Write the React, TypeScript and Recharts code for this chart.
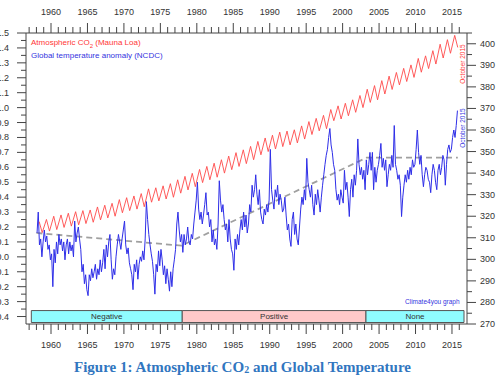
import { ComposedChart, Line, XAxis, YAxis, ReferenceArea } from "recharts";

const START_YEAR = 1958;

// Mauna Loa CO2 (ppm): seasonal maximum (May) and minimum (October) per year, 1958-2015
const CO2_MAY = [
  317.5, 318.5, 320.0, 320.6, 321.4, 322.1, 322.6, 322.9, 324.3, 325.1,
  326.0, 327.7, 328.6, 329.4, 330.5, 332.7, 333.2, 334.1, 335.1, 336.9,
  338.5, 339.9, 341.7, 343.1, 344.6, 346.2, 347.9, 349.5, 350.8, 352.4,
  354.7, 356.3, 357.6, 359.0, 359.5, 360.1, 361.9, 363.9, 365.4, 366.8,
  369.5, 371.2, 372.4, 374.0, 376.0, 378.9, 380.6, 382.9, 385.0, 386.7,
  388.6, 390.2, 393.2, 394.4, 396.8, 399.8, 401.9, 403.9,
];
const CO2_OCT = [
  312.4, 313.1, 313.8, 314.8, 315.4, 316.0, 316.6, 317.2, 318.3, 319.2,
  320.0, 321.6, 322.6, 323.3, 324.4, 326.5, 327.1, 328.0, 328.8, 330.7,
  332.2, 333.7, 335.6, 336.9, 338.1, 340.0, 341.6, 343.1, 344.4, 346.2,
  348.5, 350.0, 351.2, 352.3, 353.1, 354.0, 355.8, 357.9, 359.6, 360.6,
  364.3, 365.1, 366.6, 368.2, 370.4, 372.8, 374.0, 376.7, 378.8, 380.9,
  382.5, 384.4, 386.8, 388.5, 390.6, 393.4, 395.6, 398.3,
];

// NCDC global temperature anomaly (°C), two-month values, one row per year
const TEMP_ANOMALY = [
  [0.16, 0.30, 0.08, 0.12, 0.0, 0.1],
  [0.18, 0.1, 0.14, 0.05, 0.08, -0.02],
  [0.02, -0.2, 0.05, -0.04, 0.1, 0.02],
  [0.15, 0.08, 0.12, 0.04, 0.1, -0.02],
  [0.08, 0.12, 0.02, 0.1, 0.04, 0.08],
  [0.0, 0.24, 0.1, 0.16, 0.2, 0.12],
  [0.05, -0.1, -0.05, -0.18, -0.12, -0.22],
  [-0.26, -0.12, -0.16, -0.08, -0.14, -0.1],
  [-0.05, -0.15, -0.08, -0.12, -0.02, -0.1],
  [-0.04, 0.05, -0.08, 0.08, 0.0, 0.1],
  [0.15, -0.02, -0.15, -0.08, -0.12, 0.0],
  [0.08, 0.15, 0.1, 0.05, 0.12, 0.18],
  [0.24, 0.08, 0.02, 0.06, -0.04, -0.08],
  [-0.12, -0.22, -0.05, -0.1, -0.02, -0.15],
  [-0.05, 0.0, -0.03, 0.04, -0.02, 0.12],
  [0.37, 0.25, 0.15, 0.08, 0.02, -0.03],
  [-0.12, -0.25, -0.05, -0.1, 0.04, -0.06],
  [0.05, -0.02, -0.12, -0.06, -0.18, -0.08],
  [-0.15, -0.23, -0.1, -0.2, -0.08, -0.02],
  [0.05, 0.22, 0.3, 0.18, 0.1, 0.15],
  [0.03, 0.15, 0.08, 0.12, 0.2, 0.1],
  [0.08, 0.15, 0.12, 0.22, 0.3, 0.38],
  [0.5, 0.32, 0.25, 0.3, 0.22, 0.28],
  [0.35, 0.43, 0.28, 0.3, 0.2, 0.25],
  [0.1, 0.18, 0.08, 0.12, 0.05, 0.22],
  [0.51, 0.38, 0.3, 0.35, 0.25, 0.18],
  [0.22, 0.1, 0.25, 0.12, 0.05, 0.02],
  [-0.09, 0.12, 0.05, 0.15, 0.08, 0.18],
  [0.25, 0.18, 0.3, 0.2, 0.28, 0.16],
  [0.22, 0.35, 0.3, 0.48, 0.4, 0.45],
  [0.55, 0.42, 0.35, 0.45, 0.3, 0.25],
  [0.22, 0.32, 0.28, 0.35, 0.3, 0.38],
  [0.72, 0.45, 0.38, 0.32, 0.45, 0.4],
  [0.48, 0.35, 0.42, 0.38, 0.3, 0.32],
  [0.4, 0.28, 0.18, 0.22, 0.12, 0.07],
  [0.25, 0.3, 0.15, 0.22, 0.12, 0.08],
  [0.2, 0.32, 0.4, 0.35, 0.45, 0.38],
  [0.66, 0.5, 0.45, 0.4, 0.48, 0.35],
  [0.28, 0.42, 0.35, 0.45, 0.38, 0.3],
  [0.4, 0.48, 0.55, 0.62, 0.68, 0.72],
  [0.8, 0.86, 0.75, 0.7, 0.62, 0.58],
  [0.45, 0.38, 0.42, 0.35, 0.45, 0.4],
  [0.36, 0.58, 0.45, 0.5, 0.4, 0.27],
  [0.45, 0.52, 0.4, 0.55, 0.48, 0.58],
  [0.79, 0.62, 0.55, 0.6, 0.52, 0.58],
  [0.45, 0.65, 0.55, 0.62, 0.7, 0.58],
  [0.7, 0.45, 0.6, 0.5, 0.58, 0.62],
  [0.68, 0.76, 0.6, 0.66, 0.58, 0.65],
  [0.47, 0.55, 0.62, 0.58, 0.68, 0.6],
  [0.88, 0.62, 0.58, 0.52, 0.55, 0.48],
  [0.27, 0.4, 0.48, 0.55, 0.5, 0.58],
  [0.52, 0.6, 0.55, 0.65, 0.6, 0.62],
  [0.72, 0.85, 0.7, 0.62, 0.68, 0.55],
  [0.47, 0.55, 0.6, 0.58, 0.52, 0.5],
  [0.43, 0.55, 0.62, 0.58, 0.5, 0.45],
  [0.58, 0.62, 0.55, 0.6, 0.68, 0.65],
  [0.48, 0.62, 0.72, 0.75, 0.7, 0.72],
  [0.8, 0.85, 0.8, 0.88, 0.98],
];

// dashed trend, one straight piece per PDO phase
const TREND_YEARS = [1958.0, 1977.9, 2003.3, 2015.8];
const TREND_VALUES = [0.16, 0.075, 0.665, 0.665];

const PHASE_NAMES = ["Negative", "Positive", "None"];
const PHASE_FROM = [1957.3, 1978.0, 2003.2];
const PHASE_TO = [1978.0, 2003.2, 2016.65];

const YEAR_TICKS = [
  1957, 1958, 1959, 1960, 1961, 1962, 1963, 1964, 1965, 1966, 1967, 1968, 1969,
  1970, 1971, 1972, 1973, 1974, 1975, 1976, 1977, 1978, 1979, 1980, 1981, 1982,
  1983, 1984, 1985, 1986, 1987, 1988, 1989, 1990, 1991, 1992, 1993, 1994, 1995,
  1996, 1997, 1998, 1999, 2000, 2001, 2002, 2003, 2004, 2005, 2006, 2007, 2008,
  2009, 2010, 2011, 2012, 2013, 2014, 2015, 2016,
];
const YEAR_LABELS = [1960, 1965, 1970, 1975, 1980, 1985, 1990, 1995, 2000, 2005, 2010, 2015];
const TEMP_LABELS = [-0.4, -0.3, -0.2, -0.1, 0.0, 0.1, 0.2, 0.3, 0.4, 0.5, 0.6, 0.7, 0.8, 0.9, 1.0, 1.1, 1.2, 1.3, 1.4, 1.5];
const TEMP_MINOR = [-0.35, -0.25, -0.15, -0.05, 0.05, 0.15, 0.25, 0.35, 0.45, 0.55, 0.65, 0.75, 0.85, 0.95, 1.05, 1.15, 1.25, 1.35, 1.45];
const CO2_LABELS = [270, 280, 290, 300, 310, 320, 330, 340, 350, 360, 370, 380, 390, 400];
const CO2_MINOR = [275, 285, 295, 305, 315, 325, 335, 345, 355, 365, 375, 385, 395, 405];

const co2Data = CO2_MAY.flatMap((may, i) => [
  { t: START_YEAR + i + 4.5 / 12, co2: may },
  { t: START_YEAR + i + 9.5 / 12, co2: CO2_OCT[i] },
]);
const tempData = TEMP_ANOMALY.flatMap((row, i) =>
  row.map((v, k) => ({ t: START_YEAR + i + (k + 0.5) / 6, temp: v }))
);
const trendData = TREND_YEARS.map((t, i) => ({ t, trend: TREND_VALUES[i] }));

const FONT = "'Liberation Sans', Arial, sans-serif";
const AXIS = "#444";
const LABEL = "#333";
const X_DOMAIN = [1956.57, 2017.06];
const PHASE_FILL = ["#8ffcff", "#ffc9c9", "#8ffcff"];

const isIn = (list: number[], v: number) => list.some((a) => Math.abs(a - v) < 1e-6);

function LeftTick({ x, y, payload }: any) {
  const major = isIn(TEMP_LABELS, payload.value);
  return (
    <g>
      <line x1={x - (major ? 9 : 5)} x2={x} y1={y} y2={y} stroke={AXIS} />
      {major && (
        <text x={x - 17} y={y + 3} textAnchor="end" fontSize={9} fontFamily={FONT} fill={LABEL}>
          {payload.value.toFixed(1)}
        </text>
      )}
    </g>
  );
}

function RightTick({ x, y, payload }: any) {
  const major = isIn(CO2_LABELS, payload.value);
  return (
    <g>
      <line x1={x} x2={x + (major ? 9 : 5)} y1={y} y2={y} stroke={AXIS} />
      {major && (
        <text x={x + 13} y={y + 3} textAnchor="start" fontSize={9} fontFamily={FONT} fill={LABEL}>
          {payload.value}
        </text>
      )}
    </g>
  );
}

function YearTick({ x, y, payload, top }: any) {
  const major = isIn(YEAR_LABELS, payload.value);
  const dir = top ? -1 : 1;
  return (
    <g>
      <line x1={x} x2={x} y1={y} y2={y + dir * (major ? 10 : 6)} stroke={AXIS} />
      {major && (
        <text x={x} y={top ? y - 18 : y + 24} textAnchor="middle" fontSize={9} fontFamily={FONT} fill={LABEL}>
          {payload.value}
        </text>
      )}
    </g>
  );
}

export default function App() {
  return (
    <div style={{ position: "absolute", left: 0, top: 0, width: 500, height: 380, background: "#fff", overflow: "hidden" }}>
      <ComposedChart width={500} height={350} margin={{ top: 0, right: 0, bottom: 0, left: 0 }}>
        <XAxis
          xAxisId={0}
          type="number"
          dataKey="t"
          domain={X_DOMAIN}
          allowDataOverflow
          ticks={YEAR_TICKS}
          interval={0}
          height={26}
          tickSize={0}
          tickMargin={0}
          tickLine={false}
          axisLine={{ stroke: AXIS }}
          tick={(p: any) => <YearTick {...p} />}
        />
        <XAxis
          xAxisId="top"
          orientation="top"
          type="number"
          dataKey="t"
          domain={X_DOMAIN}
          allowDataOverflow
          ticks={YEAR_TICKS}
          interval={0}
          height={33}
          tickSize={0}
          tickMargin={0}
          tickLine={false}
          axisLine={{ stroke: AXIS }}
          tick={(p: any) => <YearTick {...p} top />}
        />
        <YAxis
          yAxisId="temp"
          orientation="left"
          type="number"
          domain={[-0.45, 1.5]}
          allowDataOverflow
          ticks={[...TEMP_LABELS, ...TEMP_MINOR]}
          interval={0}
          width={26}
          tickSize={0}
          tickMargin={0}
          tickLine={false}
          axisLine={{ stroke: AXIS }}
          tick={(p: any) => <LeftTick {...p} />}
        />
        <YAxis
          yAxisId="co2"
          orientation="right"
          type="number"
          domain={[270, 405]}
          allowDataOverflow
          ticks={[...CO2_LABELS, ...CO2_MINOR]}
          interval={0}
          width={33}
          tickSize={0}
          tickMargin={0}
          tickLine={false}
          axisLine={{ stroke: AXIS }}
          tick={(p: any) => <RightTick {...p} />}
        />
        {PHASE_NAMES.map((name, i) => (
          <ReferenceArea
            key={name}
            xAxisId={0}
            yAxisId="temp"
            x1={PHASE_FROM[i]}
            x2={PHASE_TO[i]}
            y1={-0.44}
            y2={-0.36}
            fill={PHASE_FILL[i]}
            fillOpacity={1}
            stroke="#555"
            strokeWidth={1}
            label={{ value: name, position: "center", fontSize: 8, fill: LABEL, fontFamily: FONT }}
          />
        ))}
        <Line
          data={trendData}
          xAxisId="top"
          yAxisId="temp"
          dataKey="trend"
          stroke="#a0a0a0"
          strokeWidth={1.8}
          strokeDasharray="6 4"
          dot={false}
          isAnimationActive={false}
        />
        <Line
          data={tempData}
          xAxisId={0}
          yAxisId="temp"
          dataKey="temp"
          stroke="#2e2ee8"
          strokeWidth={1}
          dot={false}
          isAnimationActive={false}
        />
        <Line
          data={co2Data}
          xAxisId={0}
          yAxisId="co2"
          dataKey="co2"
          stroke="#ff4a4a"
          strokeWidth={0.9}
          dot={false}
          isAnimationActive={false}
        />
      </ComposedChart>

      <div style={{ position: "absolute", left: 31, top: 38, fontFamily: FONT, fontSize: 8, lineHeight: "10px", color: "#ff3636" }}>
        Atmospheric CO<sub style={{ fontSize: 6 }}>2</sub> (Mauna Loa)
      </div>
      <div style={{ position: "absolute", left: 31, top: 51, fontFamily: FONT, fontSize: 8, lineHeight: "10px", color: "#3434e0" }}>
        Global temperature anomaly (NCDC)
      </div>
      <div style={{ position: "absolute", left: 462, top: 64, transform: "translate(-50%, -50%) rotate(-90deg)", fontFamily: FONT, fontSize: 6.5, whiteSpace: "nowrap", color: "#ff3636" }}>
        October 2015
      </div>
      <div style={{ position: "absolute", left: 462, top: 128, transform: "translate(-50%, -50%) rotate(-90deg)", fontFamily: FONT, fontSize: 6.5, whiteSpace: "nowrap", color: "#3434e0" }}>
        October 2015
      </div>
      <div style={{ position: "absolute", left: 405, top: 298, fontFamily: FONT, fontSize: 6.5, whiteSpace: "nowrap", color: "#3434e0" }}>
        Climate4you graph
      </div>
      <div style={{ position: "absolute", left: 74, top: 358, fontFamily: "'Liberation Serif', serif", fontWeight: "bold", fontSize: 15, lineHeight: "18px", whiteSpace: "nowrap", color: "#3176c0" }}>
        Figure 1: Atmospheric CO<span style={{ fontSize: 10, verticalAlign: "-1px" }}>2</span> and Global Temperature
      </div>
    </div>
  );
}
